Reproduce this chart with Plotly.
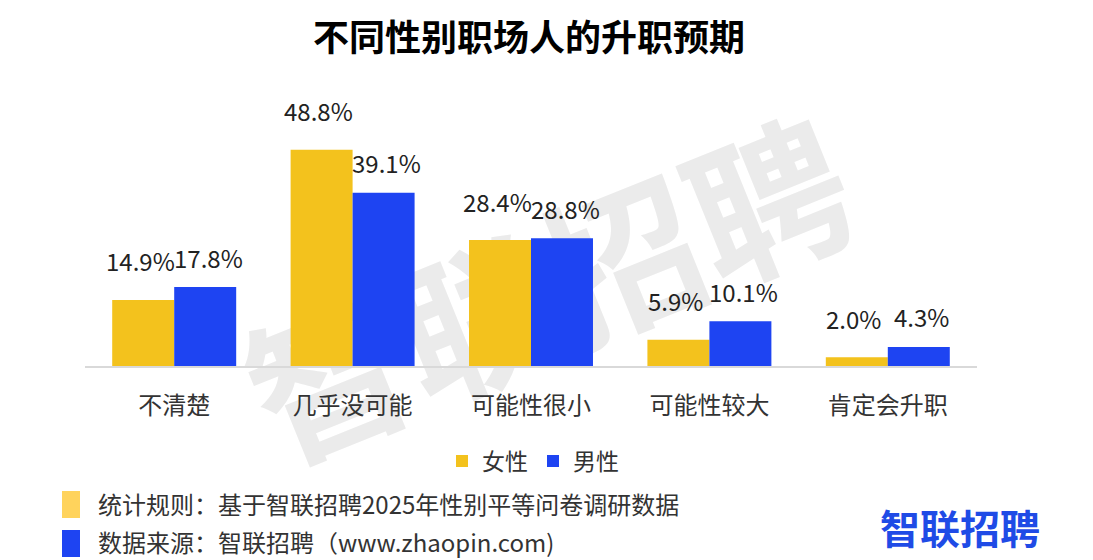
import plotly.graph_objects as go

categories = ["不清楚", "几乎没可能", "可能性很小", "可能性较大", "肯定会升职"]
female = [14.9, 48.8, 28.4, 5.9, 2.0]
male = [17.8, 39.1, 28.8, 10.1, 4.3]
series_names = ["女性", "男性"]
title_text = "不同性别职场人的升职预期"
note_rule = "统计规则：基于智联招聘2025年性别平等问卷调研数据"
note_source = "数据来源：智联招聘（www.zhaopin.com)"
logo_text = "智联招聘"
watermark_text = "智联招聘"

YELLOW = "#F3C21D"
BLUE = "#1E44F2"
FONT = "Noto Sans CJK SC"

W, H = 1093, 560
L, R, T, B = 85, 977, 100, 366  # plot area in pixels


def px(x):
    return (x - L) / (R - L)


def py(y):
    return (B - y) / (B - T)


fig = go.Figure()
# watermark drawn underneath (on the base subplot), as rotated bar text
wm_cx, wm_cy = px(546), py(283)
fig.add_trace(go.Bar(x=[wm_cx], y=[0.4], base=[wm_cy - 0.2], width=[0.4],
                     text=[f"<b>{watermark_text}</b>"], textposition="inside",
                     insidetextanchor="middle", textangle=-22, constraintext="none",
                     cliponaxis=False,
                     textfont=dict(family=FONT, size=158, color="#EBEBEB"),
                     marker=dict(color="rgba(0,0,0,0)", line_width=0),
                     hoverinfo="skip", showlegend=False, xaxis="x", yaxis="y"))

fig.add_trace(go.Bar(name=series_names[0], x=categories, y=female, marker_color=YELLOW,
                     marker_line_width=0, xaxis="x2", yaxis="y2"))
fig.add_trace(go.Bar(name=series_names[1], x=categories, y=male, marker_color=BLUE,
                     marker_line_width=0, xaxis="x2", yaxis="y2"))

annotations = []
# data labels
for cat, v in zip(categories, female):
    annotations.append(dict(text=f"{v:.1f}%", x=cat, y=v, xref="x2", yref="y2", xshift=-34, yshift=39,
                            showarrow=False, yanchor="middle",
                            font=dict(family=FONT, size=24, color="#222222")))
for cat, v in zip(categories, male):
    annotations.append(dict(text=f"{v:.1f}%", x=cat, y=v, xref="x2", yref="y2", xshift=34, yshift=30,
                            showarrow=False, yanchor="middle",
                            font=dict(family=FONT, size=24, color="#222222")))
# footer notes
annotations.append(dict(text=note_rule, x=px(96), y=py(503), xref="paper", yref="paper",
                        xanchor="left", yanchor="middle", showarrow=False,
                        font=dict(family=FONT, size=24, color="#333333")))
annotations.append(dict(text=note_source, x=px(96), y=py(541), xref="paper", yref="paper",
                        xanchor="left", yanchor="middle", showarrow=False,
                        font=dict(family=FONT, size=24, color="#333333")))
annotations.append(dict(text=f"<b>{logo_text}</b>", x=px(960), y=py(527), xref="paper", yref="paper",
                        xanchor="center", yanchor="middle", showarrow=False,
                        font=dict(family=FONT, size=40, color="#1F4BE6")))

shapes = [
    dict(type="rect", xref="paper", yref="paper", x0=px(62), x1=px(80), y0=py(518), y1=py(491),
         fillcolor="#FFD35C", line_width=0),
    dict(type="rect", xref="paper", yref="paper", x0=px(62), x1=px(80), y0=py(557), y1=py(530),
         fillcolor=BLUE, line_width=0),
]

fig.update_layout(
    width=W, height=H,
    margin=dict(l=L, r=W - R, t=T, b=H - B),
    paper_bgcolor="white", plot_bgcolor="white",
    barmode="group", bargap=0.305, bargroupgap=0,
    title=dict(text=f"<b>{title_text}</b>", x=529 / W, xref="container", xanchor="center",
               y=1 - 38 / H, yref="container", yanchor="middle",
               font=dict(family=FONT, size=36, color="#000000")),
    font=dict(family=FONT),
    legend=dict(orientation="h", x=px(533), y=py(461), xanchor="center", yanchor="middle",
                font=dict(family=FONT, size=23, color="#333333"), itemwidth=30,
                traceorder="normal", bgcolor="rgba(0,0,0,0)"),
    annotations=annotations,
    shapes=shapes,
    showlegend=True,
    xaxis=dict(range=[0, 1], visible=False, fixedrange=True),
    yaxis=dict(range=[0, 1], visible=False, fixedrange=True),
    xaxis2=dict(overlaying="x", anchor="y2", showline=True, linecolor="#D9D9D9", linewidth=1.5,
                ticks="", showgrid=False, tickfont=dict(family=FONT, size=24, color="#333333"),
                ticklabelstandoff=17),
    yaxis2=dict(overlaying="y", anchor="x2", range=[0, 60], visible=False, showgrid=False,
                zeroline=False),
)

fig.write_html("out.html", config={"displayModeBar": False},
               post_script="document.body.style.margin='0';document.body.style.overflow='hidden';")
